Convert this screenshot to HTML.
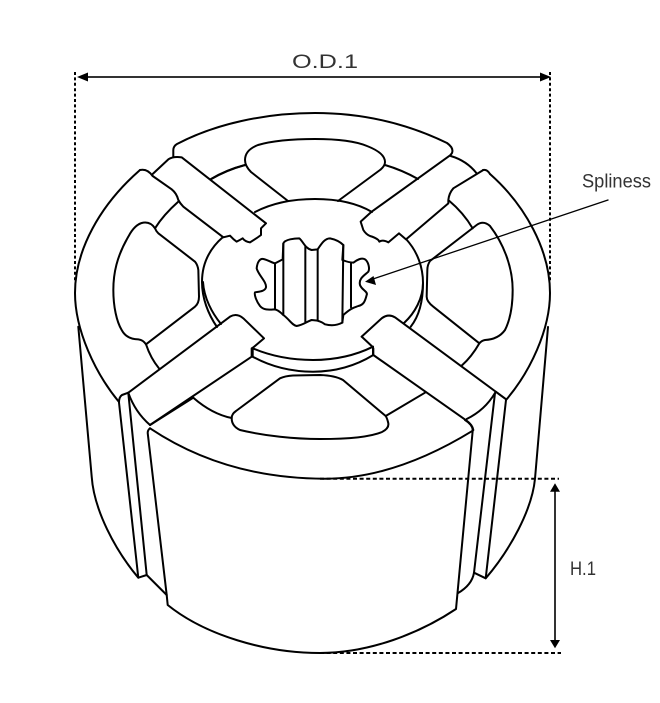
<!DOCTYPE html>
<html>
<head>
<meta charset="utf-8">
<style>
html,body{margin:0;padding:0;background:#fff;width:660px;height:703px;overflow:hidden}
svg{display:block}
path{fill:none;stroke:#000;stroke-width:2;stroke-linejoin:round;stroke-linecap:round;vector-effect:non-scaling-stroke}
text{font-family:"Liberation Sans",sans-serif;fill:#333;font-size:19.5px}
</style>
</head>
<body>
<svg width="660" height="703" viewBox="0 0 660 703" xmlns="http://www.w3.org/2000/svg">
<rect width="660" height="703" fill="#fff"/>

<!-- outer arcs in page coordinates -->
<path d="M173.3,157 L173.3,150 Q173.5,146 177,144 C215,124 265,113 315,113 C365,113 410,125 447,143 Q454,148 452,153 L450.5,155"/>
<path d="M140,170 C100,205 75,250 75,293 C75,330 95,373 119,402"/>
<path d="M490,174 C525,205 550,250 550,293 C550,330 530,372 506,400"/>
<path d="M483,170 Q487,169 490,174"/>
<!-- top window -->
<path d="M288,201 L251,172 Q245,166 245,160 Q245,150 258,145 C275,140 300,139 315,139 C335,139 355,141 367,146 Q385,153 385,162 Q385,166 380,170 L338,201"/>
<path d="M245,165 Q226,170 211,179"/>
<path d="M385,165 Q402,170 418,179"/>
<!-- disc -->
<path d="M255,212 Q280,199 315,199 Q350,199 372,212"/>
<path d="M223,237 C208,250 202,265 202,282 C202,298 208,314 217,327"/>
<path d="M203,282 C204,298 212,313 221,324"/>
<path d="M406,239 C418,252 423,268 423,283 C423,298 415,313 404,323"/>
<path d="M423,283 C423,300 420,315 410.7,326.7"/>
<!-- south ring -->
<path d="M252.7,348.3 Q280,360 313,360 Q346,360 373,346.7"/>
<path d="M252.7,356.7 Q280,371.7 313,371.7 Q346,371.7 373.3,355"/>
<path d="M252.7,348.3 V356.7"/>
<path d="M373,346.7 V355"/>
<!-- bottom window -->
<path d="M193.3,397.7 Q212,414 231.7,418"/>
<path d="M231.7,418 Q231.5,426 240,430 C265,436 295,439 320,439 C345,439 370,437 382,432 Q390,428 388,422 Q387,418 385.7,416 L343,380 Q335,375.5 320,375 L293,375.5 Q285,376 280,378.3 L236,411 Q231.7,414 231.7,418"/>
<path d="M385.7,416 L425,392.7"/>
<!-- main front block -->
<path d="M150,428.3 Q147.7,430 147.7,433 L166.7,595 L167.7,605 C205,635 265,653 320,653 C370,653 420,633 456,609 L472.7,430.7 Q473,425 465,420"/>
<path d="M150,428.3 C205,465 265,478.7 325,478.7 C375,478.7 425,460 472.7,430.7"/>
<!-- side lower parts -->
<path d="M78.3,326.7 L91.7,476.7 C94,510 115,550 138.3,577.7 L146.7,575 L166.7,595"/>
<path d="M119,402.5 L138.3,577.7"/>
<path d="M128.3,393 L146.7,575"/>
<path d="M119,402.5 Q119,397 122,395 L128.3,392.7"/>
<path d="M128.3,392.7 Q135,412 150,425"/>
<path d="M548,327 L535,478.7 C532,510 510,550 485.7,578.3 L474,572.7"/>
<path d="M506,400 L485.7,578.3"/>
<path d="M495,393 L474,572.7"/>
<path d="M495.7,391.7 L505.7,399"/>
<path d="M466.7,419 Q485,410 495,393"/>
<path d="M474,572.7 Q472,585 457.7,593.3"/>

<!-- NW bar and left sector -->
<g transform="translate(60,100) scale(.33333)">
<path d="M278,222 L325,178 Q340,168 365,172 L618,370 L603,385 L603,405 Q590,415 570,427 Q555,425 548,415 Q540,420 530,425 Q520,418 510,407 L490,412 L370,320 Q360,310 355,300 Q350,280 335,268 L278,228"/>
<path d="M278,228 Q262,205 240,210"/>
<path d="M355,305 Q310,345 285,385"/>
<path d="M285,385 Q272,365 250,368 Q225,372 205,410 C170,470 160,520 160,570 C160,620 170,665 185,690 Q200,718 235,718 Q250,720 258,733 L405,620 Q417,610 417,590 L415,510 Q413,495 405,485 L295,400 Q288,393 285,385"/>
<path d="M258,733 Q272,775 297,805"/>
<path d="M452,238 Q500,210 555,195"/>
<!-- SW bar -->
<path d="M205,878 L510,650 Q530,638 550,655 L612,715 L580,742 L575,745 L575,770 L270,975"/>
<path d="M400,893 L270,975"/>
</g>

<!-- NE bar and right sector -->
<g transform="translate(320,100) scale(.33333)">
<path d="M155,335 L392,165"/>
<path d="M155,335 L122,365 L130,390 Q138,403 150,408 Q165,412 175,420 L178,425 Q188,418 205,427 L237,400 L258,418 L385,310 L385,300 Q387,280 400,265 L490,210"/>
<path d="M392,168 Q440,182 470,220"/>
<path d="M387,302 Q430,338 458,385"/>
<path d="M330,483 L470,375 Q490,360 510,378 C550,430 578,500 578,570 C578,620 570,660 555,690 Q535,718 495,720 Q485,722 478,730 L340,620 Q320,605 320,590 L322,510 Q322,495 330,483"/>
<path d="M478,730 Q455,770 425,797"/>
<!-- SE bar -->
<path d="M125,710 L185,655 Q205,640 225,652 L557,897"/>
<path d="M125,710 L155,738 L160,745 L160,765 L440,962 Q458,975 460,990"/>
</g>

<!-- spline bore -->
<g transform="translate(180,180) scale(.33333)">
<path d="M310,190 C315,178 345,175 358,175 C370,185 375,205 395,210 L413,208 C425,190 435,175 450,175 C465,178 480,185 490,195 L487,240 C500,245 510,248 520,248 C530,240 545,232 555,238 C565,245 570,265 565,275 C555,285 535,295 540,315 C545,330 565,335 560,345 C555,365 550,375 535,378 C525,382 515,382 490,405 L487,428 C470,437 450,437 435,433 C425,425 420,425 413,422 L395,420 C380,425 370,435 350,438 C335,435 330,420 310,405 C300,395 290,388 283,388 C265,390 250,390 240,378 C230,365 222,345 225,337 C235,335 255,335 258,322 C260,305 235,285 230,265 C232,245 240,235 250,237 C265,240 275,248 285,250 L308,238 Z"/>
<path d="M285,250 V388"/>
<path d="M310,190 V405"/>
<path d="M376,200 V425"/>
<path d="M413,208 V422"/>
<path d="M490,195 L487,428"/>
<path d="M513,248 V382"/>
</g>

<!-- dimension lines -->
<path d="M75,72 V282" style="stroke-dasharray:3 2.4;stroke-linecap:butt"/>
<path d="M550,72 V282" style="stroke-dasharray:3 2.4;stroke-linecap:butt"/>
<path d="M320,478.7 H559" style="stroke-dasharray:4 2.6;stroke-linecap:butt"/>
<path d="M320,653 H561" style="stroke-dasharray:4 2.6;stroke-linecap:butt"/>
<path d="M84,77 H544" style="stroke:#333"/>
<polygon points="77,77 88,72.5 88,81.5" fill="#000"/>
<polygon points="551,77 540,72.5 540,81.5" fill="#000"/>
<path d="M555,488 V644" style="stroke:#333"/>
<polygon points="555,483.3 550,491.7 560,491.7" fill="#000"/>
<polygon points="555,648.3 550,640 560,640" fill="#000"/>
<!-- leader -->
<path d="M608,200 L370,280" style="stroke-width:1.3"/>
<polygon points="365,281.7 373.5,276 376,285" fill="#000"/>

<text x="292" y="68" textLength="66" lengthAdjust="spacingAndGlyphs">O.D.1</text>
<text x="582" y="187.5" textLength="69" lengthAdjust="spacingAndGlyphs">Spliness</text>
<text x="570" y="575" textLength="26" lengthAdjust="spacingAndGlyphs">H.1</text>
</svg>
</body>
</html>
